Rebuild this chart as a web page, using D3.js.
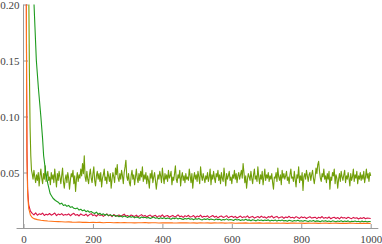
<!DOCTYPE html>
<html>
<head>
<meta charset="utf-8">
<script src="https://d3js.org/d3.v7.min.js"></script>
<style>
  body { margin: 0; background: #fff; }
</style>
</head>
<body>
<div id="chart"></div>
<script>
// tick values
var xMajor = [0, 200, 400, 600, 800, 1000];
var yMajor = [0.05, 0.10, 0.15, 0.20];

// steep start of each curve, [x, y] pairs
var orangeHead = [[8,0.22],[9,0.12],[10,0.06],[12,0.03],[15,0.018],[20,0.012],[25,0.0098]];
var redHead = [[8,0.22],[9,0.13],[10,0.07],[12,0.035],[15,0.021],[20,0.0155]];
var oliveHead = [[15,0.22],[17,0.14],[19,0.09],[21,0.065],[23,0.052]];
var greenHead = [[29,0.21],[33,0.18],[37,0.15],[43,0.125],[50,0.10],[55,0.08],[58,0.065],[64,0.05],[70,0.04],[77,0.031],[85,0.027],[92,0.025]];

// tails, sampled every `step` from `start`
var oliveStart = 25, oliveStep = 2.5;
var olive = [
  0.049,0.044,0.052,0.046,0.041,0.048,0.043,0.050,0.038,0.047,0.053,0.045,0.040,0.049,0.044,0.056,0.042,0.047,0.051,0.043,
  0.046,0.039,0.050,0.044,0.048,0.041,0.053,0.045,0.037,0.049,0.043,0.051,0.046,0.040,0.047,0.054,0.042,0.036,0.044,0.048,
  0.041,0.050,0.045,0.035,0.043,0.049,0.046,0.052,0.040,0.047,0.033,0.044,0.050,0.042,0.048,0.045,0.053,0.047,0.058,0.049,
  0.065,0.046,0.042,0.051,0.044,0.040,0.048,0.053,0.045,0.041,0.049,0.055,0.043,0.038,0.047,0.051,0.044,0.049,0.042,0.050,
  0.037,0.045,0.048,0.053,0.043,0.046,0.040,0.051,0.047,0.042,0.049,0.036,0.044,0.050,0.046,0.041,0.054,0.048,0.057,0.045,
  0.042,0.049,0.044,0.052,0.047,0.040,0.050,0.055,0.061,0.046,0.043,0.049,0.041,0.038,0.047,0.052,0.044,0.048,0.039,0.046,
  0.053,0.045,0.041,0.049,0.043,0.051,0.046,0.055,0.042,0.048,0.044,0.050,0.040,0.047,0.043,0.036,0.049,0.045,0.052,0.041,
  0.046,0.050,0.043,0.035,0.042,0.048,0.044,0.051,0.047,0.041,0.054,0.046,0.040,0.049,0.044,0.048,0.042,0.052,0.045,0.047,
  0.051,0.039,0.046,0.043,0.049,0.056,0.044,0.041,0.048,0.045,0.052,0.038,0.046,0.050,0.043,0.047,0.041,0.049,0.044,0.046,
  0.043,0.053,0.047,0.041,0.049,0.036,0.045,0.050,0.044,0.048,0.042,0.051,0.046,0.040,0.055,0.047,0.043,0.049,0.045,0.041,
  0.047,0.044,0.050,0.042,0.046,0.053,0.039,0.048,0.044,0.051,0.045,0.041,0.049,0.046,0.052,0.043,0.048,0.040,0.050,0.045,
  0.042,0.054,0.046,0.038,0.049,0.044,0.047,0.051,0.043,0.046,0.040,0.048,0.045,0.052,0.044,0.049,0.041,0.047,0.050,0.044,
  0.048,0.052,0.045,0.058,0.050,0.041,0.047,0.036,0.044,0.049,0.046,0.043,0.051,0.045,0.040,0.048,0.053,0.044,0.047,0.042,
  0.055,0.046,0.040,0.048,0.044,0.051,0.039,0.046,0.053,0.043,0.048,0.045,0.050,0.042,0.047,0.044,0.049,0.041,0.035,0.046,
  0.045,0.050,0.042,0.054,0.046,0.043,0.048,0.039,0.052,0.045,0.049,0.044,0.047,0.051,0.043,0.046,0.040,0.048,0.053,0.045,
  0.046,0.042,0.051,0.044,0.037,0.048,0.045,0.055,0.041,0.047,0.043,0.050,0.034,0.046,0.049,0.044,0.052,0.047,0.042,0.048,
  0.050,0.043,0.048,0.052,0.045,0.040,0.046,0.054,0.049,0.057,0.060,0.051,0.045,0.042,0.049,0.046,0.053,0.044,0.047,0.041,
  0.049,0.044,0.051,0.035,0.046,0.043,0.050,0.047,0.053,0.040,0.048,0.045,0.036,0.044,0.049,0.042,0.051,0.046,0.043,0.048,
  0.052,0.041,0.047,0.044,0.050,0.045,0.038,0.049,0.043,0.046,0.053,0.042,0.048,0.045,0.051,0.040,0.047,0.044,0.050,0.043,
  0.048,0.044,0.051,0.041,0.046,0.053,0.045,0.049,0.042,0.050,0.047
];

var greenStart = 100, greenStep = 5;
var green = [
  0.0235,0.0218,0.0226,0.0205,0.0212,0.0198,0.0206,0.0189,0.0195,0.0180,
  0.0176,0.0183,0.0165,0.0172,0.0158,0.0166,0.0150,0.0159,0.0145,0.0152,
  0.0140,0.0134,0.0146,0.0128,0.0136,0.0122,0.0131,0.0118,0.0127,0.0115,
  0.0124,0.0113,0.0119,0.0108,0.0117,0.0105,0.0114,0.0102,0.0111,0.0106,
  0.0098,0.0110,0.0101,0.0107,0.0095,0.0104,0.0099,0.0092,0.0103,0.0096,
  0.0101,0.0093,0.0099,0.0090,0.0097,0.0102,0.0091,0.0096,0.0088,0.0095,
  0.0090,0.0097,0.0087,0.0094,0.0089,0.0083,0.0093,0.0088,0.0095,0.0085,
  0.0091,0.0086,0.0080,0.0090,0.0084,0.0092,0.0082,0.0087,0.0079,0.0088,
  0.0083,0.0089,0.0081,0.0077,0.0086,0.0080,0.0088,0.0078,0.0084,0.0081,
  0.0076,0.0085,0.0079,0.0083,0.0074,0.0081,0.0077,0.0086,0.0075,0.0080,
  0.0078,0.0072,0.0082,0.0076,0.0080,0.0071,0.0079,0.0074,0.0083,0.0073,
  0.0077,0.0070,0.0079,0.0074,0.0068,0.0078,0.0072,0.0076,0.0069,0.0075,
  0.0071,0.0077,0.0067,0.0074,0.0070,0.0076,0.0066,0.0073,0.0069,0.0075,
  0.0068,0.0072,0.0065,0.0074,0.0069,0.0064,0.0071,0.0067,0.0073,0.0066,
  0.0070,0.0064,0.0072,0.0067,0.0062,0.0070,0.0065,0.0071,0.0063,0.0068,
  0.0066,0.0061,0.0069,0.0064,0.0070,0.0062,0.0067,0.0060,0.0068,0.0065,
  0.0061,0.0067,0.0063,0.0069,0.0060,0.0066,0.0062,0.0068,0.0059,0.0065,
  0.0062,0.0067,0.0060,0.0064,0.0058,0.0066,0.0061,0.0065,0.0059,0.0063,
  0.0062
];

var redStart = 25, redStep = 5;
var red = [
  0.0135,0.0122,0.0140,0.0118,0.0131,0.0125,0.0137,0.0116,0.0128,0.0121,
  0.0134,0.0119,0.0127,0.0138,0.0115,0.0129,0.0122,0.0133,0.0117,0.0126,
  0.0120,0.0131,0.0114,0.0127,0.0136,0.0118,0.0125,0.0112,0.0130,0.0121,
  0.0116,0.0128,0.0110,0.0124,0.0133,0.0115,0.0122,0.0109,0.0127,0.0117,
  0.0123,0.0108,0.0119,0.0130,0.0113,0.0121,0.0106,0.0125,0.0115,0.0110,
  0.0122,0.0107,0.0118,0.0128,0.0111,0.0116,0.0104,0.0121,0.0113,0.0108,
  0.0119,0.0105,0.0115,0.0124,0.0109,0.0117,0.0103,0.0114,0.0120,0.0106,
  0.0112,0.0118,0.0102,0.0113,0.0107,0.0121,0.0104,0.0111,0.0116,0.0101,
  0.0110,0.0117,0.0103,0.0109,0.0122,0.0105,0.0112,0.0099,0.0114,0.0106,
  0.0118,0.0102,0.0108,0.0115,0.0098,0.0111,0.0104,0.0119,0.0100,0.0109,
  0.0105,0.0113,0.0097,0.0108,0.0116,0.0101,0.0110,0.0095,0.0107,0.0112,
  0.0099,0.0106,0.0114,0.0096,0.0104,0.0110,0.0098,0.0108,0.0094,0.0103,
  0.0111,0.0097,0.0105,0.0100,0.0113,0.0095,0.0103,0.0108,0.0093,0.0101,
  0.0107,0.0096,0.0110,0.0099,0.0104,0.0092,0.0106,0.0100,0.0112,0.0094,
  0.0102,0.0108,0.0093,0.0100,0.0105,0.0091,0.0103,0.0097,0.0109,0.0095,
  0.0101,0.0092,0.0106,0.0098,0.0090,0.0104,0.0096,0.0102,0.0089,0.0099,
  0.0105,0.0093,0.0097,0.0101,0.0088,0.0100,0.0094,0.0107,0.0091,0.0098,
  0.0092,0.0103,0.0087,0.0096,0.0100,0.0090,0.0098,0.0086,0.0102,0.0093,
  0.0097,0.0089,0.0101,0.0094,0.0088,0.0099,0.0091,0.0096,0.0085,0.0095,
  0.0090,0.0098,0.0087,0.0094,0.0092,0.0089
];

var orangeStart = 30, orangeStep = 10;
var orange = [
  0.0088,0.0079,0.0074,0.0070,0.0067,0.0065,0.0062,0.0061,0.0060,0.0058,
  0.0059,0.0057,0.0056,0.0058,0.0055,0.0056,0.0054,0.0055,0.0053,0.0055,
  0.0052,0.0054,0.0053,0.0051,0.0053,0.0052,0.0054,0.0051,0.0052,0.0050,
  0.0052,0.0051,0.0053,0.0050,0.0051,0.0052,0.0049,0.0051,0.0050,0.0052,
  0.0050,0.0049,0.0051,0.0050,0.0052,0.0049,0.0050,0.0048,0.0051,0.0049,
  0.0050,0.0048,0.0050,0.0049,0.0051,0.0048,0.0049,0.0050,0.0047,0.0049,
  0.0048,0.0050,0.0047,0.0049,0.0048,0.0050,0.0047,0.0048,0.0049,0.0047,
  0.0049,0.0047,0.0048,0.0046,0.0048,0.0049,0.0047,0.0048,0.0046,0.0048,
  0.0047,0.0048,0.0046,0.0047,0.0049,0.0046,0.0047,0.0048,0.0046,0.0047,
  0.0046,0.0048,0.0047,0.0045,0.0047,0.0046,0.0047,0.0046
];

var width = 382, height = 244;

var x = d3.scaleLinear().domain([0, 1000]).range([23.5, 370.7]);
var y = d3.scaleLinear().domain([0, 0.20]).range([228.5, 4.5]);

var svg = d3.select("#chart").append("svg")
    .attr("width", width)
    .attr("height", height);

// join head pairs and a sampled tail into one point list
function series(head, start, step, vals) {
  return head.concat(vals.map(function(v, i) { return [start + i * step, v]; }));
}

var lines = [
  {data: series(oliveHead, oliveStart, oliveStep, olive), color: "rgb(112,158,8)"},
  {data: series(redHead, redStart, redStep, red), color: "rgb(216,20,72)"},
  {data: series(greenHead, greenStart, greenStep, green), color: "rgb(30,155,30)"},
  {data: series(orangeHead, orangeStart, orangeStep, orange), color: "rgb(255,115,25)"}
];

svg.append("clipPath").attr("id", "clip")
  .append("rect")
    .attr("x", x(0)).attr("y", y(0.20))
    .attr("width", x(1000) - x(0) + 2)
    .attr("height", y(0) - y(0.20));

var line = d3.line()
  .x(function(d) { return x(d[0]); })
  .y(function(d) { return y(d[1]); });

// axes lines
var axisColor = "#999";
svg.append("line")
  .attr("x1", x(-20)).attr("x2", x(1022))
  .attr("y1", y(0)).attr("y2", y(0))
  .attr("stroke", axisColor).attr("stroke-width", 1);
svg.append("line")
  .attr("x1", x(0)).attr("x2", x(0))
  .attr("y1", y(0)).attr("y2", y(0.20))
  .attr("stroke", axisColor).attr("stroke-width", 1);

// x ticks (pointing up)
var xMinor = d3.range(50, 1001, 50).filter(function(v) { return v % 200 !== 0; });
var gx = svg.append("g").attr("transform", "translate(0," + y(0) + ")");
gx.call(d3.axisBottom(x).tickValues(xMinor).tickSize(-2.5).tickFormat(""));
gx.call(d3.axisBottom(x).tickValues(xMajor).tickSize(-4.5).tickPadding(7).tickFormat(d3.format("d")));

// y ticks (pointing right)
var yMinor = d3.range(1, 20).map(function(i) { return i / 100; }).filter(function(v) { return Math.round(v * 100) % 5 !== 0; });
var gy = svg.append("g").attr("transform", "translate(" + x(0) + ",0)");
gy.call(d3.axisLeft(y).tickValues(yMinor).tickSize(-2.5).tickFormat(""));
gy.call(d3.axisLeft(y).tickValues(yMajor).tickSize(-4.5).tickPadding(4).tickFormat(d3.format(".2f")));

[gx, gy].forEach(function(g) {
  g.attr("font-family", "Times New Roman, Liberation Serif, Times, serif")
   .attr("font-size", 11);
  g.selectAll(".domain").remove();
  g.selectAll("line").attr("stroke", axisColor);
  g.selectAll("text").attr("fill", "#444");
});

// series
svg.append("g").attr("clip-path", "url(#clip)")
  .selectAll("path")
  .data(lines)
  .join("path")
    .attr("d", function(d) { return line(d.data); })
    .attr("fill", "none")
    .attr("stroke", function(d) { return d.color; })
    .attr("stroke-width", 1.1)
    .attr("stroke-linejoin", "round");
</script>
</body>
</html>
